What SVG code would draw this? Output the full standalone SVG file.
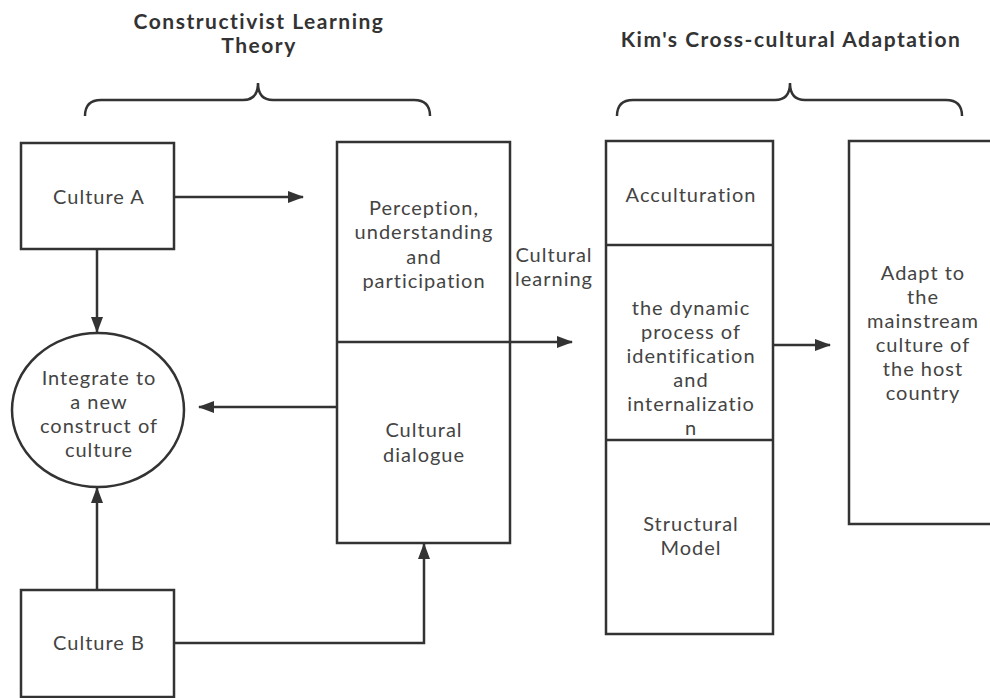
<svg xmlns="http://www.w3.org/2000/svg" width="990" height="698" viewBox="0 0 990 698">
<style>
.box{fill:#fff;stroke:#333;stroke-width:2.5}
.ln{fill:none;stroke:#333;stroke-width:2.5}
.t{font-family:Lato,"Open Sans",sans-serif;font-size:20px;letter-spacing:1px;fill:#444;text-anchor:middle}
.h{font-family:Lato,"Open Sans",sans-serif;font-size:21px;letter-spacing:1.5px;font-weight:bold;fill:#333;text-anchor:middle}
</style>
<defs>
<marker id="ah" markerWidth="16" markerHeight="12" refX="15" refY="6" orient="auto" markerUnits="userSpaceOnUse">
<path d="M0,0 L16,6 L0,12 Z" fill="#333"/>
</marker>
</defs>
<rect width="990" height="698" fill="#fff"/>
<g id="title-left">
<text class="h" x="259" y="29">Constructivist Learning</text>
<text class="h" x="259" y="53">Theory</text>
<path class="ln" d="M85,116 Q85,100 101,100 L243,100 Q258,100 258,83 Q258,100 273,100 L414,100 Q430,100 430,116"/>
</g>
<g id="title-right">
<text class="h" x="791" y="47">Kim's Cross-cultural Adaptation</text>
<path class="ln" d="M617,116 Q617,100 633,100 L775,100 Q790,100 790,83 Q790,100 805,100 L946,100 Q962,100 962,116"/>
</g>
<g id="culture-a">
<rect class="box" x="21" y="143" width="153" height="106"/>
<text class="t" x="99" y="204">Culture A</text>
</g>
<g id="integrate">
<ellipse class="box" cx="98" cy="410" rx="86" ry="77"/>
<text class="t" x="99" y="385">Integrate to</text>
<text class="t" x="99" y="409">a new</text>
<text class="t" x="99" y="433">construct of</text>
<text class="t" x="99" y="457">culture</text>
</g>
<g id="culture-b">
<rect class="box" x="21" y="590" width="153" height="107"/>
<text class="t" x="99" y="650">Culture B</text>
</g>
<g id="ctl-box">
<rect class="box" x="337" y="142" width="173" height="401"/>
<line class="ln" x1="337" y1="342" x2="510" y2="342"/>
<text class="t" x="424" y="215">Perception,</text>
<text class="t" x="424" y="239">understanding</text>
<text class="t" x="424" y="264">and</text>
<text class="t" x="424" y="288">participation</text>
<text class="t" x="424" y="437">Cultural</text>
<text class="t" x="424" y="462">dialogue</text>
</g>
<g id="kim-box">
<rect class="box" x="606" y="141" width="167" height="493"/>
<line class="ln" x1="606" y1="245" x2="773" y2="245"/>
<line class="ln" x1="606" y1="440" x2="773" y2="440"/>
<text class="t" x="691" y="202">Acculturation</text>
<text class="t" x="691" y="315">the dynamic</text>
<text class="t" x="691" y="339">process of</text>
<text class="t" x="691" y="363">identification</text>
<text class="t" x="691" y="387">and</text>
<text class="t" x="691" y="411">internalizatio</text>
<text class="t" x="691" y="435">n</text>
<text class="t" x="691" y="531">Structural</text>
<text class="t" x="691" y="555">Model</text>
</g>
<g id="adapt">
<rect class="box" x="849" y="141" width="150" height="383"/>
<text class="t" x="923" y="280">Adapt to</text>
<text class="t" x="923" y="304">the</text>
<text class="t" x="923" y="328">mainstream</text>
<text class="t" x="923" y="352">culture of</text>
<text class="t" x="923" y="376">the host</text>
<text class="t" x="923" y="400">country</text>
</g>
<g id="connectors">
<line class="ln" x1="174" y1="197" x2="303" y2="197" marker-end="url(#ah)"/>
<line class="ln" x1="97" y1="249" x2="97" y2="332" marker-end="url(#ah)"/>
<line class="ln" x1="336" y1="407" x2="199" y2="407" marker-end="url(#ah)"/>
<line class="ln" x1="97" y1="590" x2="97" y2="488" marker-end="url(#ah)"/>
<polyline class="ln" points="174,643 424,643 424,544" marker-end="url(#ah)"/>
<line class="ln" x1="510" y1="342" x2="572" y2="342" marker-end="url(#ah)"/>
<text class="t" x="554" y="262">Cultural</text>
<text class="t" x="554" y="286">learning</text>
<line class="ln" x1="773" y1="345" x2="830" y2="345" marker-end="url(#ah)"/>
</g>
</svg>
